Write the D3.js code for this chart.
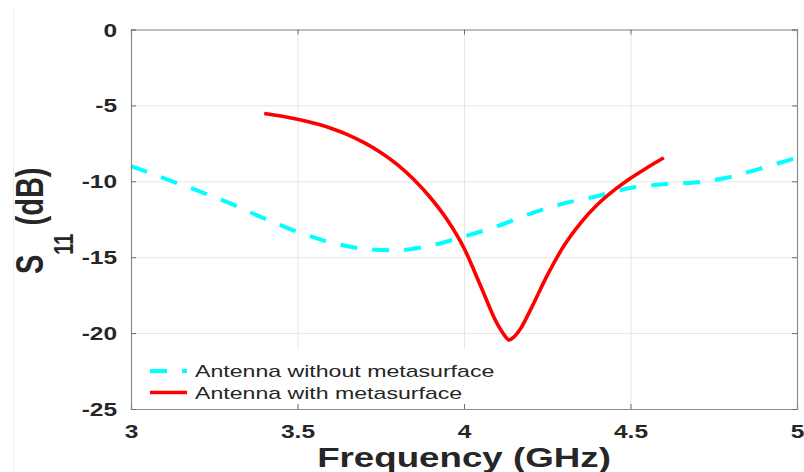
<!DOCTYPE html>
<html>
<head>
<meta charset="utf-8">
<script src="https://cdn.jsdelivr.net/npm/d3@7"></script>
<style>
  html, body { margin: 0; padding: 0; background: #fff; }
  svg { display: block; }
  text { font-family: "Liberation Sans", Arial, Helvetica, sans-serif; fill: #262626; }
</style>
</head>
<body>
<svg id="chart" width="804" height="472"></svg>
<script>
// ---- data ----
const xTicks = [3, 3.5, 4, 4.5, 5];
const yTicks = [0, -5, -10, -15, -20, -25];
const xTickLabels = ["3", "3.5", "4", "4.5", "5"];
const yTickLabels = ["0", "-5", "-10", "-15", "-20", "-25"];

const freqWithout = [3.00, 3.12, 3.21, 3.30, 3.39, 3.48, 3.57, 3.68, 3.79, 3.88, 3.99, 4.10, 4.20, 4.29, 4.39, 4.49, 4.59, 4.71, 4.79, 4.89, 5.00];
const s11Without  = [-9.0, -9.97, -10.7, -11.47, -12.35, -13.16, -13.84, -14.39, -14.55, -14.33, -13.7, -12.96, -12.13, -11.51, -11.03, -10.48, -10.21, -10.04, -9.77, -9.16, -8.45];

const freqWith = [3.40, 3.45, 3.50, 3.55, 3.60, 3.65, 3.70, 3.75, 3.80, 3.85, 3.90, 3.95, 4.00, 4.05, 4.10, 4.12, 4.135, 4.15, 4.17, 4.20, 4.25, 4.30, 4.35, 4.40, 4.45, 4.50, 4.55, 4.60];
const s11With  = [-5.53, -5.7, -5.92, -6.18, -6.5, -6.92, -7.45, -8.1, -8.9, -9.9, -11.1, -12.55, -14.4, -16.9, -19.4, -20.1, -20.45, -20.25, -19.7, -18.45, -16.2, -14.25, -12.75, -11.55, -10.6, -9.8, -9.1, -8.45];

const seriesNames = ["Antenna without metasurface", "Antenna with metasurface"];
const xLabel = "Frequency (GHz)";

// ---- layout ----
const SX = 1.36; // horizontal stretch of the reference text
const m = { left: 131, top: 29.5, right: 797, bottom: 409 };
const svg = d3.select("#chart");
svg.append("rect").attr("width", 804).attr("height", 472).attr("fill", "#fff");

// faint frame line at far left
svg.append("line").attr("x1", 13.5).attr("x2", 13.5).attr("y1", 8).attr("y2", 472)
  .attr("stroke", "#ececf2").attr("stroke-width", 1);

const x = d3.scaleLinear().domain([3, 5]).range([m.left, m.right]);
const y = d3.scaleLinear().domain([-25, 0]).range([m.bottom, m.top]);
const W = m.right - m.left, H = m.bottom - m.top;

// grid
const gridX = svg.append("g").attr("transform", `translate(0,${m.bottom})`)
  .call(d3.axisBottom(x).tickValues(xTicks).tickSize(-H).tickFormat(""));
const gridY = svg.append("g").attr("transform", `translate(${m.left},0)`)
  .call(d3.axisLeft(y).tickValues(yTicks).tickSize(-W).tickFormat(""));
[gridX, gridY].forEach(g => {
  g.select(".domain").remove();
  g.selectAll(".tick line").attr("stroke", "#e6e6e6").attr("stroke-width", 1);
});

// lines
const lineGen = d3.line().x(d => x(d[0])).y(d => y(d[1])).curve(d3.curveMonotoneX);
const dataWithout = freqWithout.map((f, i) => [f, s11Without[i]]);
const dataWith = freqWith.map((f, i) => [f, s11With[i]]);

svg.append("path").datum(dataWithout).attr("d", lineGen)
  .attr("fill", "none").attr("stroke", "#00ffff").attr("stroke-width", 4)
  .attr("stroke-dasharray", "17,15");
svg.append("path").datum(dataWith).attr("d", lineGen)
  .attr("fill", "none").attr("stroke", "#ff0000").attr("stroke-width", 3.6);

// legend
const leg = svg.append("g");
leg.append("rect").attr("x", 134).attr("y", 348).attr("width", 370).attr("height", 58).attr("fill", "#fff");
const legItems = [
  { name: seriesNames[0], color: "#00ffff", dash: "17,15", w: 4, ly: 371, ty: 377 },
  { name: seriesNames[1], color: "#ff0000", dash: null, w: 3.6, ly: 392.5, ty: 399 }
];
legItems.forEach(it => {
  leg.append("line").attr("x1", 150).attr("x2", 187).attr("y1", it.ly).attr("y2", it.ly)
    .attr("stroke", it.color).attr("stroke-width", it.w)
    .attr("stroke-dasharray", it.dash);
  leg.append("text").attr("transform", `translate(195,${it.ty}) scale(${SX},1)`)
    .attr("font-size", 17).text(it.name);
});

// axes with inward ticks
const axB = svg.append("g").attr("transform", `translate(0,${m.bottom})`)
  .call(d3.axisBottom(x).tickValues(xTicks).tickSize(-5).tickFormat((d, i) => xTickLabels[i]));
const axT = svg.append("g").attr("transform", `translate(0,${m.top})`)
  .call(d3.axisTop(x).tickValues(xTicks).tickSize(-5).tickFormat(""));
const axL = svg.append("g").attr("transform", `translate(${m.left},0)`)
  .call(d3.axisLeft(y).tickValues(yTicks).tickSize(-5).tickFormat((d, i) => yTickLabels[i]));
const axR = svg.append("g").attr("transform", `translate(${m.right},0)`)
  .call(d3.axisRight(y).tickValues(yTicks).tickSize(-5).tickFormat(""));
[axB, axT, axL, axR].forEach(g => {
  g.attr("font-family", null).attr("font-size", null);
  g.select(".domain").attr("stroke", "#8c8c8c").attr("stroke-width", 1.2);
  g.selectAll(".tick line").attr("stroke", "#6e6e6e").attr("stroke-width", 1);
});
axB.selectAll(".tick text")
  .attr("x", null).attr("y", null).attr("dy", null)
  .attr("transform", `translate(0,29) scale(${SX},1)`)
  .attr("text-anchor", "middle")
  .attr("font-size", 18).attr("font-weight", "bold").attr("fill", "#262626");
axL.selectAll(".tick text")
  .attr("x", null).attr("y", null).attr("dy", null)
  .attr("transform", `translate(-14,6.5) scale(${SX},1)`)
  .attr("text-anchor", "end")
  .attr("font-size", 18).attr("font-weight", "bold").attr("fill", "#262626");

// x-axis label
svg.append("text")
  .attr("transform", `translate(${(m.left + m.right) / 2},467) scale(${SX},1)`)
  .attr("text-anchor", "middle").attr("font-size", 27).attr("font-weight", "bold")
  .text(xLabel);

// y-axis label S11 (dB)
const yl = svg.append("text")
  .attr("transform", `translate(43,274) scale(${SX},1) rotate(-90)`)
  .attr("font-weight", "bold");
yl.append("tspan").attr("font-size", 29).text("S");
yl.append("tspan").attr("font-size", 20).attr("dy", 22).text("11");
yl.append("tspan").attr("font-size", 29).attr("dy", -22).text(" (dB)");
</script>
</body>
</html>
